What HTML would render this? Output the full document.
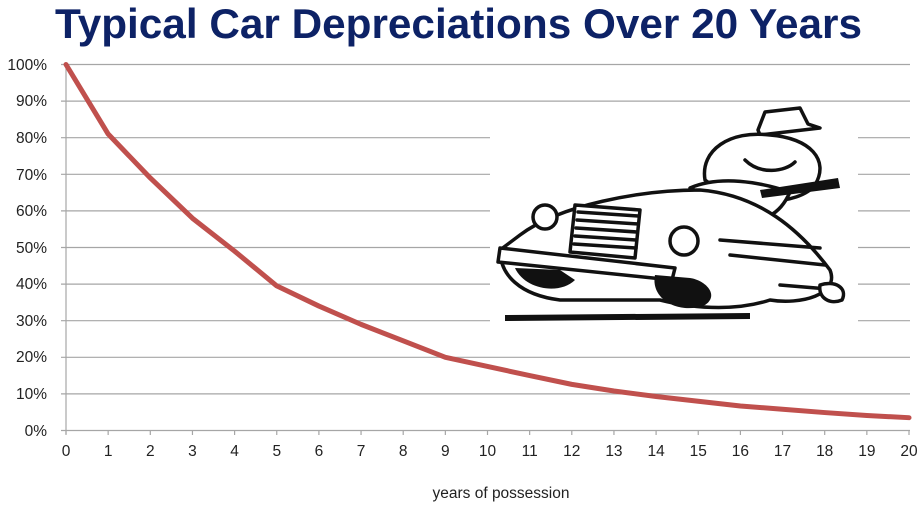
<!DOCTYPE html>
<html><head><meta charset="utf-8"><style>
body{margin:0;background:#fff;}
svg{display:block;font-family:"Liberation Sans",sans-serif;}
</style></head><body>
<svg width="921" height="505" viewBox="0 0 921 505" xmlns="http://www.w3.org/2000/svg">
<text x="55" y="38" font-size="42" font-weight="bold" fill="#0d2266" textLength="807" lengthAdjust="spacingAndGlyphs">Typical Car Depreciations Over 20 Years</text>
<g stroke="#a6a6a6" stroke-width="1.2">
<line x1="61" x2="910" y1="64.5" y2="64.5"/>
<line x1="61" x2="910" y1="101.1" y2="101.1"/>
<line x1="61" x2="910" y1="137.7" y2="137.7"/>
<line x1="61" x2="910" y1="174.3" y2="174.3"/>
<line x1="61" x2="910" y1="210.9" y2="210.9"/>
<line x1="61" x2="910" y1="247.5" y2="247.5"/>
<line x1="61" x2="910" y1="284.1" y2="284.1"/>
<line x1="61" x2="910" y1="320.7" y2="320.7"/>
<line x1="61" x2="910" y1="357.3" y2="357.3"/>
<line x1="61" x2="910" y1="393.9" y2="393.9"/>
<line x1="61" x2="910" y1="430.5" y2="430.5"/>
<line x1="66" x2="66" y1="64.5" y2="434"/>
</g>
<g stroke="#a6a6a6" stroke-width="1.2" id="ticks"></g>
<g font-size="15.5" fill="#222" text-anchor="end">
<text x="47" y="70">100%</text><text x="47" y="106">90%</text><text x="47" y="143">80%</text><text x="47" y="180">70%</text><text x="47" y="216">60%</text><text x="47" y="253">50%</text><text x="47" y="289">40%</text><text x="47" y="326">30%</text><text x="47" y="362">20%</text><text x="47" y="399">10%</text><text x="47" y="436">0%</text>
</g>
<g font-size="15.5" fill="#222" text-anchor="middle" id="xl"></g>
<text x="501" y="498" font-size="15.5" fill="#222" text-anchor="middle">years of possession</text>
<rect x="490" y="103" width="368" height="219" fill="#fff"/>
<g fill="none" stroke="#111" stroke-width="3.5" stroke-linecap="round" stroke-linejoin="round">
<path d="M758 130 L765 112 L800 108 L808 124 L820 128 L760 135 Z" fill="#fff"/>
<path d="M705 180 C700 150 730 130 770 135 C810 138 830 160 815 185 C800 205 740 210 705 180 Z" fill="#fff"/>
<path d="M745 160 C760 175 785 172 795 162"/>
<path d="M690 188 C720 175 760 182 790 192 C780 215 760 225 745 215 Z" fill="#fff"/>
<path d="M520 235 C560 205 640 190 700 190 C760 195 800 230 830 270 C840 295 800 305 770 300 C740 310 700 310 660 300 L560 300 C520 295 500 275 500 250 Z" fill="#fff"/>
<circle cx="545" cy="217" r="12" fill="#fff"/>
<circle cx="684" cy="241" r="14" fill="#fff"/>
<path d="M575 205 L640 210 L635 258 L570 252 Z" fill="#fff"/>
<path d="M578 212 L638 216 M577 220 L638 224 M576 228 L637 232 M575 236 L636 240 M574 244 L636 248"/>
<path d="M500 248 L675 268 L672 280 L498 262 Z" fill="#fff"/>
<path d="M720 240 L820 248 M730 255 L825 265 M780 285 L840 290"/>
<path d="M820 285 C835 280 848 288 842 300 C830 305 818 298 820 285 Z" fill="#fff"/>
</g>
<g fill="#111">
<path d="M515 268 C525 290 560 295 575 280 L560 270 Z"/>
<path d="M655 275 C650 300 680 315 705 305 C720 295 705 280 690 278 Z"/>
<path d="M760 190 L838 178 L840 188 L762 198 Z"/>
<path d="M505 315 L750 313 L750 319 L505 321 Z"/>
</g>
<polyline fill="none" stroke="#c0504d" stroke-width="5" stroke-linejoin="round" stroke-linecap="round" id="ln" points=""/>
<script>
var vals=[100,81,69,58,49,39.5,34,29,24.5,20,17.5,15,12.6,10.8,9.3,8,6.7,5.8,4.9,4.1,3.5];
var pts=[],t=document.getElementById('ticks'),xl=document.getElementById('xl'),ns="http://www.w3.org/2000/svg";
for(var i=0;i<=20;i++){var x=66+i*42.15;pts.push(x+","+(430.5-vals[i]*3.66));
var l=document.createElementNS(ns,'line');l.setAttribute('x1',x);l.setAttribute('x2',x);l.setAttribute('y1',430.5);l.setAttribute('y2',435);t.appendChild(l);
var tx=document.createElementNS(ns,'text');tx.setAttribute('x',x);tx.setAttribute('y',456);tx.textContent=i;xl.appendChild(tx);}
document.getElementById('ln').setAttribute('points',pts.join(' '));
</script>
</svg>
</body></html>
